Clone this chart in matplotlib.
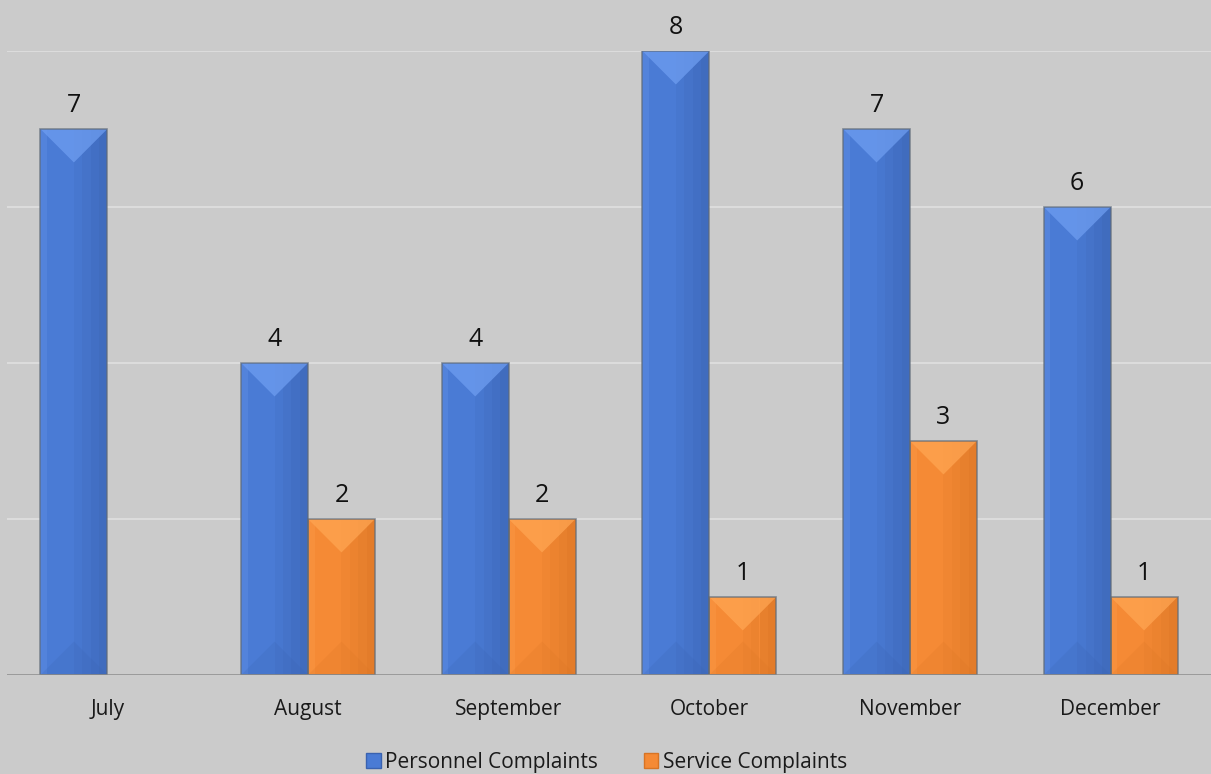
import matplotlib
matplotlib.use('Agg')
import matplotlib.pyplot as plt
from matplotlib.patches import Polygon, Rectangle
import numpy as np

months = ['July', 'August', 'September', 'October', 'November', 'December']
personnel = [7, 4, 4, 8, 7, 6]
service = [0, 2, 2, 1, 3, 1]
series_names = ['Personnel Complaints', 'Service Complaints']

# base, light, dark shades for the bevel look
blue = ('#4a7bd5', '#6e9df0', '#3a62b0')
orange = ('#f58a35', '#ffa552', '#d87424')

W, H = 1211, 774
fig = plt.figure(figsize=(W / 100, H / 100), dpi=100)
fig.patch.set_facecolor('#cbcbcb')
ax = fig.add_axes([7 / W, 99 / H, 1204 / W, 624 / H])
ax.set_facecolor('#cbcbcb')

x = np.arange(len(months))
bw = 1 / 3
ax.set_xlim(-0.5, len(months) - 0.5)
ax.set_ylim(0, 8)

# pixels per data unit, used to keep the bevel triangles at 45 degrees
px_x = 1204 / len(months)
px_y = 624 / 8


def bevel(rect, shades):
    x0, w, h = rect.get_x(), rect.get_width(), rect.get_height()
    if h <= 0:
        return
    base, light, dark = shades
    xm = x0 + w / 2
    d = min((w / 2) * px_x / px_y, h / 2)
    # right side gets darker towards the edge
    for k, a in enumerate([0.15, 0.3, 0.45, 0.6]):
        ax.add_patch(Rectangle((xm + k * w / 8, 0), w / 8, h, color=dark, alpha=a, lw=0, zorder=3))
    # left edge strip lighter
    ax.add_patch(Rectangle((x0, 0), w * 0.1, h, color=light, alpha=0.25, lw=0, zorder=3))
    # top triangle light
    ax.add_patch(Polygon([(x0, h), (x0 + w, h), (xm, h - d)], closed=True,
                         color=light, alpha=0.75, lw=0, zorder=4))
    # bottom triangle darker
    ax.add_patch(Polygon([(x0, 0), (x0 + w, 0), (xm, d)], closed=True,
                         color=dark, alpha=0.2, lw=0, zorder=4))
    # outline
    ax.add_patch(Rectangle((x0, 0), w, h, fill=False, ec='#5f6a78', lw=1.2, alpha=0.7, zorder=5))


b1 = ax.bar(x - bw / 2, personnel, bw, color=blue[0], zorder=2, label=series_names[0])
b2 = ax.bar(x + bw / 2, service, bw, color=orange[0], zorder=2, label=series_names[1])
for r in b1:
    bevel(r, blue)
for r in b2:
    bevel(r, orange)

for bars, vals in ((b1, personnel), (b2, service)):
    for r, v in zip(bars, vals):
        if v > 0:
            ax.annotate(str(v), (r.get_x() + r.get_width() / 2, v), xytext=(0, 8),
                        textcoords='offset points', ha='center', va='bottom',
                        fontsize=18, family='Open Sans', color='#111111', annotation_clip=False)

for g in [2, 4, 6, 8]:
    ax.axhline(g, color='#dedede', lw=1.3, zorder=1)
ax.axhline(0, color='#8c8c8c', lw=1.8, zorder=6)

for s in ax.spines.values():
    s.set_visible(False)
ax.set_yticks([])
ax.set_xticks(x)
ax.set_xticklabels(months, fontsize=15, family='Open Sans', color='#1a1a1a')
ax.tick_params(axis='x', length=0, pad=17)

leg = ax.legend(loc='lower center', bbox_to_anchor=(0.498, -0.18), ncol=2, frameon=False,
                prop={'family': 'Open Sans', 'size': 15}, handlelength=0.7, handleheight=0.7,
                handletextpad=0.2, columnspacing=2.2, borderpad=0.2)
for t in leg.get_texts():
    t.set_color('#1a1a1a')
for h, c in zip(leg.legend_handles, (blue, orange)):
    h.set_edgecolor(c[2])

fig.savefig('out.png', dpi=100, facecolor=fig.get_facecolor())
